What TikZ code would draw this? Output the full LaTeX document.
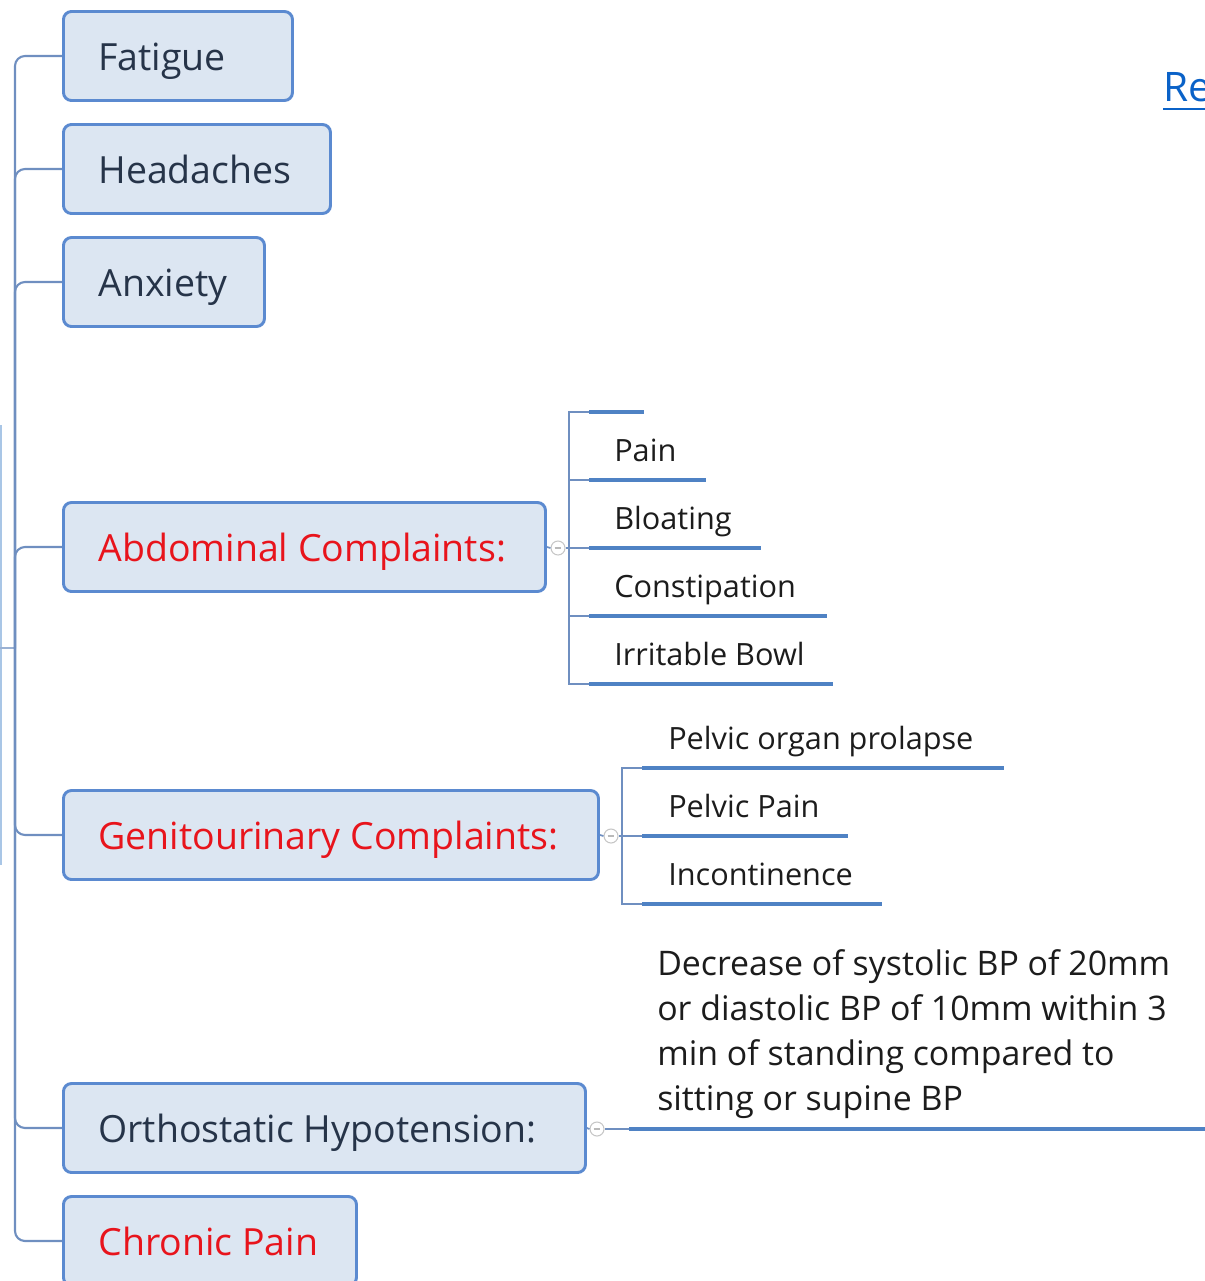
\documentclass[tikz,border=0pt]{standalone}
\usepackage{fontspec}
\setmainfont{Open Sans}
\usetikzlibrary{calc}

\definecolor{boxfill}{HTML}{DCE6F2}
\definecolor{boxline}{HTML}{5B8AD0}
\definecolor{trunk}{HTML}{6F8FC0}
\definecolor{leafline}{HTML}{4F82C4}
\definecolor{ink}{HTML}{263449}
\definecolor{alert}{HTML}{E8141C}
\definecolor{leafink}{HTML}{1C1C1C}
\definecolor{linkblue}{HTML}{0A62C8}
\definecolor{faint}{HTML}{A9C6E6}

% fixed-width content with a left indent (widths given in px, 1px = 0.75pt)
\newcommand{\padbox}[3]{\hbox to \dimexpr #1pt*3/4\relax{\hskip\dimexpr #2pt*3/4\relax #3\hss}}

\tikzset{
  topic/.style={draw=boxline, fill=boxfill, line width=2.2pt, rounded corners=6pt,
    anchor=west, inner xsep=0pt, inner ysep=0pt, minimum height=66.75pt,
    text height=21pt, text depth=0pt, font=\fontsize{28.1}{34}\selectfont, text=ink},
  hot/.style={text=alert},
  leaf/.style={anchor=south west, inner sep=0pt, text height=17pt, text depth=13.5pt,
    font=\fontsize{23}{28}\selectfont, text=leafink},
  trunkline/.style={draw=trunk, line width=1.6pt, rounded corners=7.5pt},
  branch/.style={draw=trunk, line width=1.3pt},
  underline/.style={draw=leafline, line width=3.3pt},
  toggle/.style={circle, draw=gray!45, line width=0.8pt, minimum size=10.5pt, inner sep=0pt,
    fill=white, path picture={\draw[gray!55, line width=0.8pt]
      ([xshift=-2.6pt]path picture bounding box.center) -- ([xshift=2.6pt]path picture bounding box.center);}},
}

\begin{document}
\begin{tikzpicture}[x=0.75pt, y=-0.75pt]
\useasboundingbox (0,0) rectangle (1204,1281);

% hub of the left trunk and the cut-off parent edge
\coordinate (hub) at (15,648);
\coordinate (edge) at (0,648);
\coordinate (faintTop) at (1,425);
\coordinate (faintBot) at (1,865);
\draw[faint, line width=1.2pt] (faintTop) -- (faintBot);
\draw[draw=trunk!70, line width=1.3pt] (edge) -- (hub);

% main topics
\node[topic] (fatigue)   at (62,56)   {\padbox{229}{35}{Fatigue}};
\node[topic] (headaches) at (62,169)  {\padbox{267}{35}{Headaches}};
\node[topic] (anxiety)   at (62,282)  {\padbox{201}{35}{Anxiety}};
\node[topic, hot] (abd)  at (62,547)  {\padbox{482}{35}{Abdominal Complaints:}};
\node[topic, hot] (geni) at (62,835)  {\padbox{535}{35}{Genitourinary Complaints:}};
\node[topic] (ortho)     at (62,1128) {\padbox{522}{35}{Orthostatic Hypotension:}};
\node[topic, hot] (chronic) at (62,1241) {\padbox{293}{35}{Chronic Pain}};

% trunk branches
\foreach \t in {fatigue,headaches,anxiety,abd,geni,ortho,chronic}
  \draw[trunkline] (\t.west) -| (hub);

% abdominal complaints
\node[toggle] (abdtog) at (558,548) {};
\coordinate (abdfork) at (569,548);
\draw[branch] (abd.east) -- (abdtog.west);
\draw[branch] (abdtog.east) -- (abdfork);
\node[leaf] (abd0) at (589,412) {\padbox{54}{25}{}};
\node[leaf] (pain) at (589,480) {\padbox{116}{25}{Pain}};
\node[leaf] (bloat) at (589,548) {\padbox{171}{25}{Bloating}};
\node[leaf] (const) at (589,616) {\padbox{237}{25}{Constipation}};
\node[leaf] (ibs) at (589,684) {\padbox{243}{25}{Irritable Bowl}};
\foreach \c in {abd0,pain,bloat,const,ibs} {
  \draw[branch] (abdfork) |- (\c.south west);
  \draw[underline] (\c.south west) -- (\c.south east);
}

% genitourinary complaints
\node[toggle] (genitog) at (611,836) {};
\coordinate (genifork) at (622,836);
\draw[branch] (geni.east) -- (genitog.west);
\draw[branch] (genitog.east) -- (genifork);
\node[leaf] (prolapse) at (642,768) {\padbox{361}{26}{Pelvic organ prolapse}};
\node[leaf] (pelvic) at (642,836) {\padbox{205}{26}{Pelvic Pain}};
\node[leaf] (incont) at (642,904) {\padbox{239}{26}{Incontinence}};
\foreach \c in {prolapse,pelvic,incont} {
  \draw[branch] (genifork) |- (\c.south west);
  \draw[underline] (\c.south west) -- (\c.south east);
}

% orthostatic hypotension
\node[toggle] (orthotog) at (597,1129) {};
\coordinate (orthofork) at (629,1129);
\coordinate (orthoend) at (1210,1129);
\draw[branch] (ortho.east) -- (orthotog.west);
\draw[branch] (orthotog.east) -- (orthofork);
\draw[underline] (orthofork) -- (orthoend);
\node[anchor=north west, inner sep=0pt, align=left, text=leafink,
      font=\fontsize{25.4}{33.75}\selectfont] (orthodesc) at (657,949)
  {Decrease of systolic BP of 20mm\\or diastolic BP of 10mm within 3\\min of standing compared to\\sitting or supine BP};

% link at the top right
\node[anchor=base west, inner sep=0pt, text=linkblue, font=\fontsize{30.5}{36}\selectfont] (re) at (1163,102) {Re};
\draw[linkblue, line width=1.6pt] ([yshift=-5.2pt]re.base west) -- ([yshift=-5.2pt]re.base east);
\end{tikzpicture}
\end{document}
